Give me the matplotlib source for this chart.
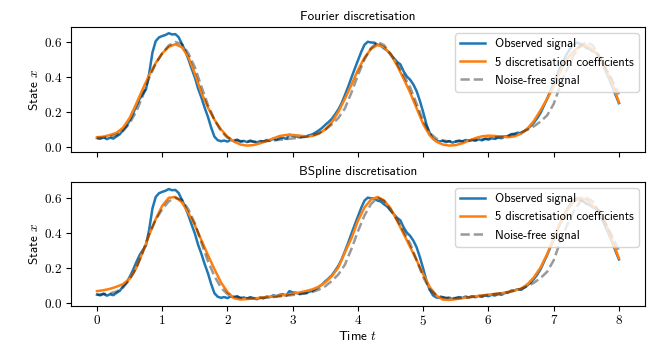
import numpy as np
import matplotlib
matplotlib.use('Agg')
import matplotlib.pyplot as plt
from matplotlib.ticker import FuncFormatter, FixedLocator

# ---------------- data ----------------
t_start, t_end = 0.0, 8.0

observed = [
    0.050, 0.046, 0.056, 0.044, 0.052, 0.047, 0.060, 0.072, 0.098, 0.118,
    0.150, 0.188, 0.232, 0.272, 0.302, 0.328, 0.420, 0.540, 0.605, 0.626,
    0.634, 0.640, 0.650, 0.643, 0.645, 0.628, 0.590, 0.550, 0.502, 0.448,
    0.397, 0.333, 0.282, 0.224, 0.172, 0.110, 0.058, 0.038, 0.032, 0.036,
    0.030, 0.040, 0.033, 0.041, 0.029, 0.034, 0.027, 0.036, 0.029, 0.024,
    0.033, 0.029, 0.039, 0.035, 0.046, 0.041, 0.049, 0.052, 0.045, 0.070,
    0.062, 0.061, 0.054, 0.058, 0.059, 0.066, 0.071, 0.082, 0.094, 0.108,
    0.126, 0.142, 0.160, 0.186, 0.214, 0.250, 0.296, 0.344, 0.396, 0.446,
    0.494, 0.543, 0.584, 0.601, 0.597, 0.596, 0.584, 0.579, 0.563, 0.550,
    0.528, 0.507, 0.486, 0.472, 0.432, 0.402, 0.384, 0.356, 0.318, 0.262,
    0.198, 0.128, 0.078, 0.046, 0.034, 0.031, 0.035, 0.027, 0.033, 0.024,
    0.031, 0.036, 0.031, 0.039, 0.034, 0.041, 0.035, 0.043, 0.037, 0.046,
    0.041, 0.049, 0.045, 0.053, 0.049, 0.059, 0.061, 0.073, 0.074, 0.081,
    0.077, 0.090, 0.104, 0.120, 0.140, 0.165, 0.195, 0.235, 0.275, 0.320,
    0.365, 0.410, 0.455, 0.495, 0.530, 0.560, 0.585, 0.596, 0.590, 0.581,
    0.566, 0.560, 0.546, 0.538, 0.510, 0.472, 0.430, 0.390, 0.344, 0.296,
    0.250,
]

noise_free = [
    0.050, 0.052, 0.057, 0.068, 0.090, 0.135, 0.200, 0.290, 0.395, 0.475,
    0.535, 0.580, 0.600, 0.588, 0.535, 0.455, 0.345, 0.240, 0.155, 0.090,
    0.052, 0.040, 0.033, 0.030, 0.030, 0.031, 0.033, 0.036, 0.040, 0.044,
    0.048, 0.052, 0.057, 0.065, 0.078, 0.098, 0.128, 0.165, 0.220, 0.310,
    0.410, 0.500, 0.565, 0.600, 0.582, 0.532, 0.475, 0.410, 0.340, 0.245,
    0.150, 0.080, 0.047, 0.036, 0.031, 0.030, 0.032, 0.035, 0.039, 0.043,
    0.048, 0.053, 0.058, 0.064, 0.072, 0.083, 0.098, 0.118, 0.145, 0.180,
    0.245, 0.350, 0.440, 0.520, 0.575, 0.600, 0.580, 0.520, 0.450, 0.380,
    0.300,
]

fourier_fit = [
    0.055, 0.058, 0.068, 0.080, 0.110, 0.165, 0.245, 0.330, 0.410, 0.480,
    0.535, 0.572, 0.587, 0.570, 0.515, 0.420, 0.310, 0.225, 0.155, 0.100,
    0.058, 0.030, 0.013, 0.007, 0.010, 0.020, 0.033, 0.048, 0.062, 0.068,
    0.068, 0.064, 0.060, 0.062, 0.075, 0.100, 0.140, 0.200, 0.275, 0.355,
    0.440, 0.510, 0.560, 0.583, 0.570, 0.530, 0.465, 0.390, 0.310, 0.220,
    0.130, 0.065, 0.030, 0.013, 0.007, 0.010, 0.020, 0.035, 0.050, 0.060,
    0.064, 0.062, 0.058, 0.055, 0.060, 0.075, 0.105, 0.150, 0.210, 0.275,
    0.345, 0.430, 0.500, 0.545, 0.575, 0.580, 0.555, 0.510, 0.440, 0.360,
    0.255,
]

bspline_fit = [
    0.070, 0.075, 0.083, 0.095, 0.110, 0.140, 0.200, 0.290, 0.390, 0.480,
    0.555, 0.600, 0.605, 0.575, 0.515, 0.445, 0.360, 0.275, 0.195, 0.120,
    0.065, 0.030, 0.022, 0.025, 0.028, 0.032, 0.036, 0.040, 0.044, 0.048,
    0.055, 0.062, 0.070, 0.080, 0.095, 0.120, 0.155, 0.205, 0.290, 0.370,
    0.470, 0.545, 0.590, 0.605, 0.585, 0.540, 0.470, 0.395, 0.320, 0.245,
    0.165, 0.093, 0.045, 0.022, 0.020, 0.024, 0.030, 0.035, 0.040, 0.045,
    0.050, 0.054, 0.058, 0.065, 0.073, 0.084, 0.110, 0.150, 0.205, 0.280,
    0.370, 0.460, 0.525, 0.575, 0.600, 0.590, 0.555, 0.525, 0.450, 0.355,
    0.256,
]

titles = ["Fourier discretisation", "BSpline discretisation"]
series_labels = ["Observed signal", "5 discretisation coefficients", "Noise-free signal"]
x_ticks = [0, 1, 2, 3, 4, 5, 6, 7, 8]
y_ticks = [0.0, 0.2, 0.4, 0.6]

# ---------------- plotting ----------------
plt.rcParams['font.family'] = ['cmss10', 'DejaVu Sans']
plt.rcParams['mathtext.fontset'] = 'cm'
plt.rcParams['axes.unicode_minus'] = False
plt.rcParams['axes.formatter.use_mathtext'] = True

t_obs = np.linspace(t_start, t_end, len(observed))
t_fit = np.linspace(t_start, t_end, len(noise_free))

fig = plt.figure(figsize=(6.64, 3.52), dpi=100)
ax1 = fig.add_axes([0.1068, 0.568, 0.8646, 0.355])
ax2 = fig.add_axes([0.1068, 0.131, 0.8646, 0.352], sharex=ax1)

for ax, fit, title in [(ax1, fourier_fit, titles[0]), (ax2, bspline_fit, titles[1])]:
    ax.plot(t_obs, observed, color='C0', lw=1.8, label=series_labels[0])
    ax.plot(t_fit, fit, color='C1', lw=1.8, label=series_labels[1])
    ax.plot(t_fit, noise_free, color='k', ls='--', alpha=0.4, lw=1.8,
            label=series_labels[2])
    ax.set_title(title, fontsize=9.5, pad=5)
    ax.set_ylabel('State $x$', fontsize=9.5, labelpad=2)
    ax.yaxis.set_major_locator(FixedLocator(y_ticks))
    ax.yaxis.set_major_formatter(FuncFormatter(lambda v, p: f'${v:.1f}$'))
    ax.tick_params(labelsize=9.5, pad=2.5)
    ax.legend(loc='upper right', fontsize=9)

ax1.set_xlim(-0.4, 8.4)
ax1.xaxis.set_major_locator(FixedLocator(x_ticks))
ax1.xaxis.set_major_formatter(FuncFormatter(lambda v, p: f'${v:g}$'))
ax1.tick_params(labelbottom=False)
ax1.set_ylim(-0.03, 0.685)
ax2.set_ylim(-0.014, 0.69)
ax2.set_xlabel('Time $t$', fontsize=9.5, labelpad=1)

fig.savefig('out.png', dpi=100)
